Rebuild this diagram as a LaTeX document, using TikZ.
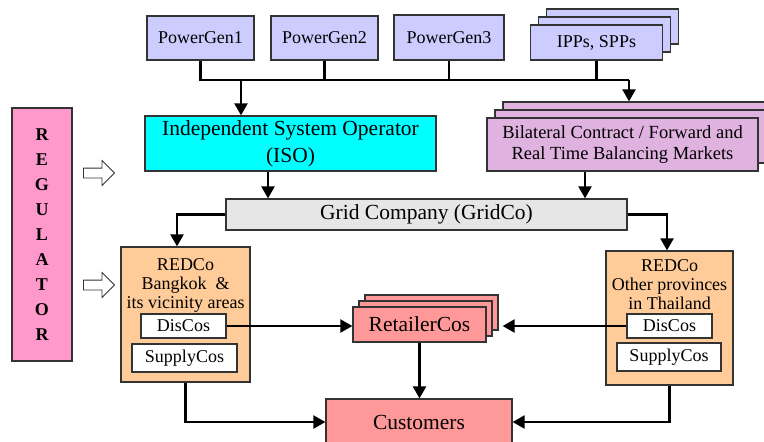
\documentclass[tikz,border=0pt]{standalone}
\usepackage{fontspec}
\setmainfont{Liberation Serif}
\usetikzlibrary{arrows.meta,shapes.arrows}
\definecolor{genfill}{RGB}{204,204,255}
\definecolor{isofill}{RGB}{0,255,255}
\definecolor{bilfill}{RGB}{224,178,224}
\definecolor{gridfill}{RGB}{230,230,230}
\definecolor{redfill}{RGB}{255,204,153}
\definecolor{retfill}{RGB}{255,153,153}
\definecolor{regfill}{RGB}{255,153,204}
\begin{document}
\begin{tikzpicture}[x=1pt,y=-1pt,
		box/.style={draw=black!80, line width=1.2pt, inner sep=0pt, align=center},
		txt/.style={font=\fontsize{18}{19}\selectfont},
		big/.style={font=\fontsize{21.5}{27}\selectfont},
		link/.style={line width=2.2pt},
		arr/.style={link, -{Triangle[length=12pt,width=13pt]}},
		hollow/.style={single arrow, draw=black!80, line width=0.8pt, fill=white, inner sep=4.5pt,
			minimum height=31pt, single arrow head extend=7.5pt, single arrow tip angle=90}]
	\clip (0,0) rectangle (764,442);

	\node[box, txt, fill=genfill, minimum width=107pt, minimum height=44pt] (gen1) at (200.5,38) {PowerGen1};
	\node[box, txt, fill=genfill, minimum width=107pt, minimum height=44pt] (gen2) at (324.5,38) {PowerGen2};
	\node[box, txt, fill=genfill, minimum width=110pt, minimum height=45pt] (gen3) at (449,37.5) {PowerGen3};
	\node[box, fill=genfill, minimum width=132pt, minimum height=35pt] (ipp3) at (612.5,26.5) {};
	\node[box, fill=genfill, minimum width=132pt, minimum height=35pt] (ipp2) at (604.5,34.5) {};
	\node[box, txt, fill=genfill, minimum width=132pt, minimum height=35pt] (ipp) at (596.5,42.5) {IPPs, SPPs};

	\node[box, big, fill=isofill, minimum width=291pt, minimum height=55pt] (iso) at (290.5,143.5) {Independent System Operator\\(ISO)};
	\node[box, fill=bilfill, minimum width=271pt, minimum height=53pt] (bil3) at (638.5,128.5) {};
	\node[box, fill=bilfill, minimum width=271pt, minimum height=53pt] (bil2) at (630.5,136.5) {};
	\node[box, fill=bilfill, font=\fontsize{18.5}{21}\selectfont, minimum width=271pt, minimum height=53pt] (bil) at (622.5,144.5) {Bilateral Contract / Forward and\\Real Time Balancing Markets};

	\node[box, big, fill=gridfill, minimum width=401pt, minimum height=31pt] (grid) at (426.5,214.5) {Grid Company (GridCo)};

	\node[box, fill=redfill, minimum width=129pt, minimum height=135pt] (redL) at (185.5,314.5) {};
	\node[txt, align=center, inner sep=0pt] (redLtxt) at (185.5,285) {REDCo\\Bangkok~~\&\\its vicinity areas};
	\node[box, txt, fill=white, minimum width=85pt, minimum height=24pt] (disL) at (183.5,326) {DisCos};
	\node[box, txt, fill=white, minimum width=105pt, minimum height=28pt] (supL) at (184.5,358) {SupplyCos};

	\node[box, fill=redfill, minimum width=127pt, minimum height=134pt] (redR) at (669.5,318) {};
	\node[txt, align=center, inner sep=0pt] (redRtxt) at (669.5,285) {REDCo\\Other provinces\\in Thailand};
	\node[box, txt, fill=white, minimum width=85pt, minimum height=24pt] (disR) at (669.5,326) {DisCos};
	\node[box, txt, fill=white, minimum width=104pt, minimum height=28pt] (supR) at (669,357) {SupplyCos};

	\node[box, fill=retfill, minimum width=133pt, minimum height=35pt] (ret3) at (431.5,312.5) {};
	\node[box, fill=retfill, minimum width=133pt, minimum height=35pt] (ret2) at (425.5,318.5) {};
	\node[box, big, fill=retfill, minimum width=133pt, minimum height=35pt] (ret) at (419.5,324.5) {RetailerCos};
	\node[box, big, fill=retfill, minimum width=186pt, minimum height=46pt] (cust) at (419,422) {Customers};

	\node[box, fill=regfill, font=\bfseries\fontsize{18}{25}\selectfont, minimum width=60pt, minimum height=253pt] (reg) at (42,234.5) {R\\E\\G\\U\\L\\A\\T\\O\\R};
	\node[hollow] (regA) at (96.5,173) {};
	\node[hollow] (regB) at (96.5,285) {};

	\coordinate (busL) at (200.5,80);
	\coordinate (busR) at (629,80);
	\coordinate (isoIn) at (241,80);
	\draw[link] (gen1.south) -- (busL) -- (busR);
	\draw[link] (gen2.south) -- (gen2.south |- busR);
	\draw[link] (gen3.south) -- (gen3.south |- busR);
	\draw[link] (ipp.south) -- (ipp.south |- busR);
	\draw[arr] (isoIn) -- (isoIn |- iso.north);
	\draw[arr] (busR) -- (busR |- bil3.north);

	\draw[arr] ([xshift=-22.5pt]iso.south) -- ([xshift=-22.5pt]iso.south |- grid.north);
	\draw[arr] ([xshift=-37.5pt]bil.south) -- ([xshift=-37.5pt]bil.south |- grid.north);
	\draw[arr] (grid.west) -| ([xshift=-8.5pt]redL.north);
	\draw[arr] (grid.east) -| ([xshift=-2.5pt]redR.north);

	\draw[arr] (disL.east) -- (disL.east -| ret.west);
	\draw[arr] (disR.west) -- ([xshift=4pt]disR.west -| ret3.east);
	\draw[arr] (ret.south) -- (ret.south |- cust.north);
	\draw[arr] (redL.south) |- (cust.west);
	\draw[arr] (redR.south) |- (cust.east);
\end{tikzpicture}
\end{document}
